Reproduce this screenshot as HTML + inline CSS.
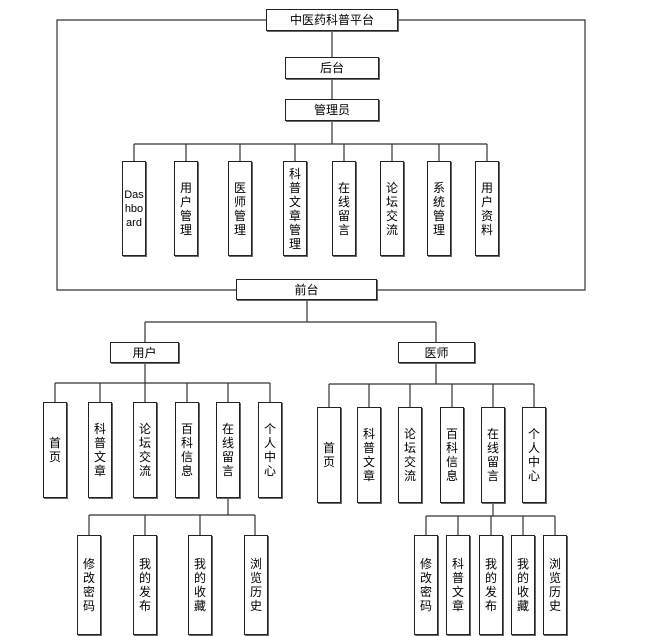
<!DOCTYPE html>
<html><head><meta charset="utf-8"><style>
body{margin:0;background:#fff;width:649px;height:636px;position:relative;overflow:hidden;font-family:"Liberation Sans","Noto Sans CJK SC",sans-serif;font-size:12px;color:#000}
.b{position:absolute;box-sizing:border-box;border:1px solid #222;box-shadow:1px 1px 0 #666;background:#fff;display:flex;align-items:center;justify-content:center;text-align:center;line-height:14px}
.v{width:24px}
svg{position:absolute;left:0;top:0}
</style></head><body>
<svg width="649" height="636" stroke="#333" stroke-width="1.2" fill="none">
<polyline points="266,20 57,20 57,290 236,290"/>
<polyline points="398,20 585,20 585,290 377,290"/>
<line x1="332" y1="31" x2="332" y2="57"/>
<line x1="332" y1="79" x2="332" y2="99"/>
<line x1="332" y1="121" x2="332" y2="144"/>
<line x1="134" y1="144" x2="487" y2="144"/>
<g>
<line x1="134" y1="144" x2="134" y2="161"/><line x1="186" y1="144" x2="186" y2="161"/><line x1="240" y1="144" x2="240" y2="161"/><line x1="295" y1="144" x2="295" y2="161"/><line x1="344" y1="144" x2="344" y2="161"/><line x1="392" y1="144" x2="392" y2="161"/><line x1="439" y1="144" x2="439" y2="161"/><line x1="487" y1="144" x2="487" y2="161"/>
</g>
<line x1="307" y1="300" x2="307" y2="322"/>
<line x1="145" y1="322" x2="436" y2="322"/>
<line x1="145" y1="322" x2="145" y2="342"/><line x1="436" y1="322" x2="436" y2="342"/>
<line x1="145" y1="363" x2="145" y2="383"/>
<line x1="55" y1="383" x2="270" y2="383"/>
<line x1="55" y1="383" x2="55" y2="402"/><line x1="100" y1="383" x2="100" y2="402"/><line x1="145" y1="383" x2="145" y2="402"/><line x1="187" y1="383" x2="187" y2="402"/><line x1="228" y1="383" x2="228" y2="402"/><line x1="270" y1="383" x2="270" y2="402"/>
<line x1="228" y1="498" x2="228" y2="515"/>
<line x1="89" y1="515" x2="255" y2="515"/>
<line x1="89" y1="515" x2="89" y2="535"/><line x1="145" y1="515" x2="145" y2="535"/><line x1="200" y1="515" x2="200" y2="535"/><line x1="255" y1="515" x2="255" y2="535"/>
<line x1="436" y1="363" x2="436" y2="384"/>
<line x1="329" y1="384" x2="534" y2="384"/>
<line x1="329" y1="384" x2="329" y2="407"/><line x1="369" y1="384" x2="369" y2="407"/><line x1="410" y1="384" x2="410" y2="407"/><line x1="452" y1="384" x2="452" y2="407"/><line x1="493" y1="384" x2="493" y2="407"/><line x1="534" y1="384" x2="534" y2="407"/>
<line x1="493" y1="503" x2="493" y2="516"/>
<line x1="426" y1="516" x2="555" y2="516"/>
<line x1="426" y1="516" x2="426" y2="535"/><line x1="458" y1="516" x2="458" y2="535"/><line x1="491" y1="516" x2="491" y2="535"/><line x1="523" y1="516" x2="523" y2="535"/><line x1="555" y1="516" x2="555" y2="535"/>
</svg>
<div class="b" style="left:266px;top:9px;width:132px;height:22px">中医药科普平台</div>
<div class="b" style="left:285px;top:57px;width:94px;height:22px">后台</div>
<div class="b" style="left:285px;top:99px;width:94px;height:22px">管理员</div>
<div class="b v" style="left:122px;top:161px;height:95px;font-size:11px">Das<br>hbo<br>ard</div>
<div class="b v" style="left:174px;top:161px;height:95px">用<br>户<br>管<br>理</div>
<div class="b v" style="left:228px;top:161px;height:95px">医<br>师<br>管<br>理</div>
<div class="b v" style="left:283px;top:161px;height:95px">科<br>普<br>文<br>章<br>管<br>理</div>
<div class="b v" style="left:332px;top:161px;height:95px">在<br>线<br>留<br>言</div>
<div class="b v" style="left:380px;top:161px;height:95px">论<br>坛<br>交<br>流</div>
<div class="b v" style="left:427px;top:161px;height:95px">系<br>统<br>管<br>理</div>
<div class="b v" style="left:475px;top:161px;height:95px">用<br>户<br>资<br>料</div>
<div class="b" style="left:236px;top:279px;width:141px;height:21px">前台</div>
<div class="b" style="left:110px;top:342px;width:69px;height:21px">用户</div>
<div class="b" style="left:398px;top:342px;width:77px;height:21px">医师</div>
<div class="b v" style="left:43px;top:402px;height:96px">首<br>页</div>
<div class="b v" style="left:88px;top:402px;height:96px">科<br>普<br>文<br>章</div>
<div class="b v" style="left:133px;top:402px;height:96px">论<br>坛<br>交<br>流</div>
<div class="b v" style="left:175px;top:402px;height:96px">百<br>科<br>信<br>息</div>
<div class="b v" style="left:216px;top:402px;height:96px">在<br>线<br>留<br>言</div>
<div class="b v" style="left:258px;top:402px;height:96px">个<br>人<br>中<br>心</div>
<div class="b v" style="left:77px;top:535px;height:100px">修<br>改<br>密<br>码</div>
<div class="b v" style="left:133px;top:535px;height:100px">我<br>的<br>发<br>布</div>
<div class="b v" style="left:188px;top:535px;height:100px">我<br>的<br>收<br>藏</div>
<div class="b v" style="left:244px;top:535px;height:100px">浏<br>览<br>历<br>史</div>
<div class="b v" style="left:317px;top:407px;height:96px">首<br>页</div>
<div class="b v" style="left:357px;top:407px;height:96px">科<br>普<br>文<br>章</div>
<div class="b v" style="left:398px;top:407px;height:96px">论<br>坛<br>交<br>流</div>
<div class="b v" style="left:440px;top:407px;height:96px">百<br>科<br>信<br>息</div>
<div class="b v" style="left:481px;top:407px;height:96px">在<br>线<br>留<br>言</div>
<div class="b v" style="left:522px;top:407px;height:96px">个<br>人<br>中<br>心</div>
<div class="b v" style="left:414px;top:535px;height:100px">修<br>改<br>密<br>码</div>
<div class="b v" style="left:446px;top:535px;height:100px">科<br>普<br>文<br>章</div>
<div class="b v" style="left:479px;top:535px;height:100px">我<br>的<br>发<br>布</div>
<div class="b v" style="left:511px;top:535px;height:100px">我<br>的<br>收<br>藏</div>
<div class="b v" style="left:543px;top:535px;height:100px">浏<br>览<br>历<br>史</div>
</body></html>
